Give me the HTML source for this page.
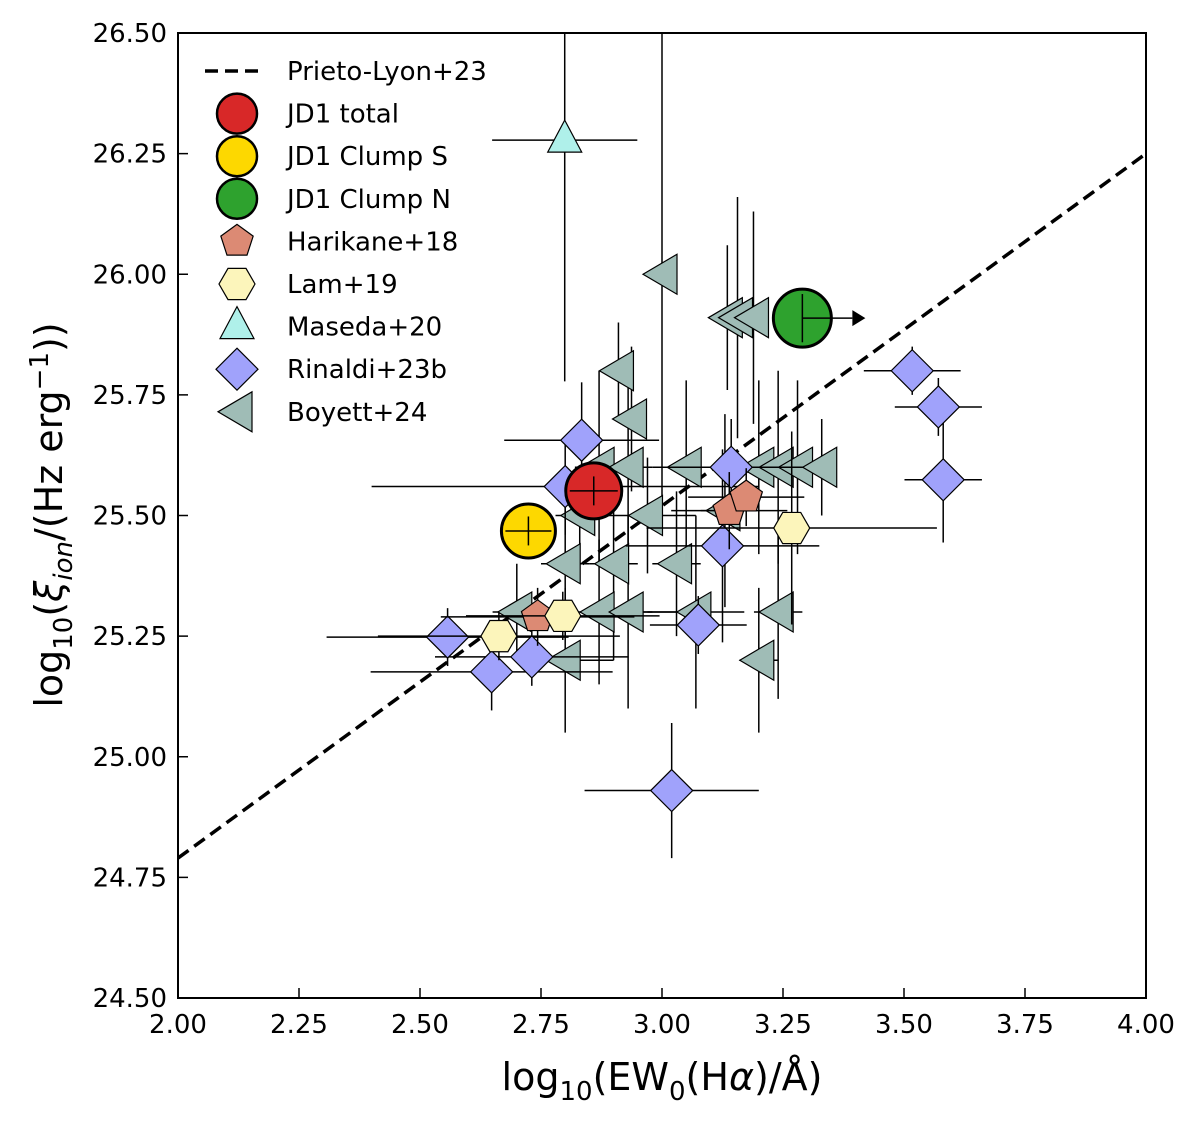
<!DOCTYPE html>
<html><head><meta charset="utf-8"><style>
body{margin:0;background:#fff;}
svg text{font-family:"DejaVu Sans","Liberation Sans",sans-serif;fill:#000;}
</style></head><body>
<svg id="chart" width="1200" height="1123" xmlns="http://www.w3.org/2000/svg"></svg>
<script>
// ---- data ----
const xTicks=[2.00,2.25,2.50,2.75,3.00,3.25,3.50,3.75,4.00];
const yTicks=[24.50,24.75,25.00,25.25,25.50,25.75,26.00,26.25,26.50];
const fitIntercept=24.79, fitSlope=0.73;
// Boyett+24: x, y, x-err, y-err
const boyX=[3.00,3.135,3.156,3.189,2.91,2.937,2.87,2.93,3.05,3.20,3.24,3.28,3.33,2.83,2.97,3.13,2.80,2.90,3.03,2.70,2.87,2.93,3.07,3.24,2.80,3.20];
const boyY=[26.00,25.91,25.91,25.91,25.80,25.70,25.60,25.60,25.60,25.60,25.60,25.60,25.60,25.50,25.50,25.51,25.40,25.40,25.40,25.30,25.30,25.30,25.30,25.30,25.20,25.20];
const boyXe=[0.02,0.02,0.02,0.02,0.02,0.02,0.05,0.05,0.07,0.05,0.05,0.05,0.02,0.05,0.1,0.05,0.05,0.05,0.05,0.05,0.2,0.05,0.1,0.05,0.1,0.04];
const boyYe=[0.5,0.15,0.25,0.22,0.1,0.15,0.2,0.2,0.18,0.18,0.2,0.18,0.1,0.1,0.12,0.2,0.15,0.2,0.15,0.1,0.15,0.2,0.2,0.18,0.15,0.15];
// Rinaldi+23b
const rinX=[2.834,2.80,3.143,3.125,3.075,3.02,2.557,2.648,2.731,3.517,3.571,3.581];
const rinY=[25.656,25.56,25.60,25.437,25.273,24.93,25.248,25.176,25.207,25.80,25.725,25.574];
const rinXe=[0.16,0.4,0.15,0.2,0.1,0.18,0.25,0.25,0.2,0.1,0.09,0.08];
const rinYe=[0.12,0.1,0.1,0.2,0.06,0.14,0.06,0.08,0.06,0.05,0.06,0.13];
// Harikane+18
const harX=[2.743,3.139,3.174];
const harY=[25.29,25.51,25.538];
const harXe=[0.2,0.12,0.12];
const harYe=[0.06,0.08,0.06];
// Lam+19
const lamX=[2.663,2.795,3.268];
const lamY=[25.25,25.292,25.474];
const lamXe=[0.25,0.2,0.3];
const lamYe=[0.05,0.05,0.2];
// Maseda+20
const masX=[2.799]; const masY=[26.278]; const masXe=[0.15]; const masYe=[0.5];
// JD1
const jdNames=["JD1 total","JD1 Clump S","JD1 Clump N"];
const jdX=[2.859,2.724,3.29];
const jdY=[25.551,25.468,25.909];
const jdXe=[0.05,0.05,0.0];
const jdYe=[0.03,0.03,0.05];

// ---- axes ----
const L=178,R=1146,T=33,B=998;
const sx=v=>L+(v-2)/(4-2)*(R-L);
const sy=v=>B-(v-24.5)/(26.5-24.5)*(B-T);
const NS="http://www.w3.org/2000/svg";
const svg=document.getElementById('chart');
function mk(tag,attrs,parent){const e=document.createElementNS(NS,tag);for(const k in attrs)e.setAttribute(k,attrs[k]);(parent||svg).appendChild(e);return e;}
const clip=mk('clipPath',{id:'cp'});mk('rect',{x:L,y:T,width:R-L,height:B-T},clip);
const plot=mk('g',{'clip-path':'url(#cp)'});



// fit line
const fit=mk('line',{x1:sx(2),y1:sy(fitIntercept),x2:sx(4),y2:sy(fitIntercept+fitSlope*2),stroke:'#000','stroke-width':3.5,'stroke-dasharray':'13,7'},plot);



function errs(xs,ys,xe,ye,name){
  for(let i=0;i<xs.length;i++){
    const g=mk('g',{stroke:'#000','stroke-width':1.5},plot);
    
    
    if(xe[i]>0)mk('line',{x1:sx(xs[i]-xe[i]),x2:sx(xs[i]+xe[i]),y1:sy(ys[i]),y2:sy(ys[i])},g);
    if(ye[i]>0)mk('line',{x1:sx(xs[i]),x2:sx(xs[i]),y1:sy(ys[i]-ye[i]),y2:sy(ys[i]+ye[i])},g);
  }
}
function pts(n,r,rot){let p=[];for(let k=0;k<n;k++){const a=(rot+k*360/n)*Math.PI/180;p.push([r*Math.cos(a),r*Math.sin(a)]);}return p;}
function marker(cx,cy,shape,fill,parent){
  let p;
  if(shape==='tri-left')p=[[-19,0],[15,-20],[15,20]];
  else if(shape==='tri-up')p=[[0,-20],[17,12],[-17,12]];
  else if(shape==='diamond')p=[[0,-21],[21,0],[0,21],[-21,0]];
  else if(shape==='pent')p=pts(5,17,-90);
  else if(shape==='hex')p=pts(6,18,0);
  return mk('polygon',{points:p.map(q=>(cx+q[0])+','+(cy+q[1])).join(' '),fill:fill,stroke:'#000','stroke-width':1.2},parent||plot);
}
function series(xs,ys,xe,ye,shape,fill,name){
  errs(xs,ys,xe,ye,name);
  for(let i=0;i<xs.length;i++){
    const m=marker(sx(xs[i]),sy(ys[i]),shape,fill);
    
    
  }
}
series(boyX,boyY,boyXe,boyYe,'tri-left','#9fbcb6','boyett24');
series(rinX,rinY,rinXe,rinYe,'diamond','#a0a2fb','rinaldi23b');
series(harX,harY,harXe,harYe,'pent','#dc8a74','harikane18');
series(lamX,lamY,lamXe,lamYe,'hex','#fcf5bb','lam19');
series(masX,masY,masXe,masYe,'tri-up','#aff0ea','maseda20');

const jdCol=['#d82828','#fdd800','#2ea22e'];
const jdR=[28,27,29];
for(let i=0;i<jdX.length;i++){
  const c=mk('circle',{cx:sx(jdX[i]),cy:sy(jdY[i]),r:jdR[i],fill:jdCol[i],stroke:'#000','stroke-width':3},plot);
  
  
  const g=mk('g',{stroke:'#000','stroke-width':1.5},plot);
  
  
  mk('line',{x1:sx(jdX[i])-(i==2?0:jdR[i]-4),x2:sx(jdX[i])+(i==2?0:jdR[i]-4),y1:sy(jdY[i]),y2:sy(jdY[i])},g);
  mk('line',{x1:sx(jdX[i]),x2:sx(jdX[i]),y1:sy(jdY[i]+jdYe[i]),y2:sy(jdY[i]-jdYe[i])},g);
  if(i==2){
    mk('line',{x1:sx(jdX[i]),x2:sx(jdX[i])+50,y1:sy(jdY[i]),y2:sy(jdY[i])},g);
    const a=mk('polygon',{points:`${sx(jdX[i])+50},${sy(jdY[i])-8} ${sx(jdX[i])+63},${sy(jdY[i])} ${sx(jdX[i])+50},${sy(jdY[i])+8}`,fill:'#000',stroke:'none'},plot);
    
    
  }
}

// frame
const fr=mk('rect',{x:L,y:T,width:R-L,height:B-T,fill:'none',stroke:'#000','stroke-width':2});


// ticks
xTicks.forEach(v=>{
  mk('line',{x1:sx(v),x2:sx(v),y1:B,y2:B-10,stroke:'#000','stroke-width':1.5});
  const t=mk('text',{x:sx(v),y:B+35,'text-anchor':'middle','font-size':26});t.textContent=v.toFixed(2);
  
  
});
yTicks.forEach(v=>{
  mk('line',{x1:L,x2:L+10,y1:sy(v),y2:sy(v),stroke:'#000','stroke-width':1.5});
  const t=mk('text',{x:L-11,y:sy(v)+9,'text-anchor':'end','font-size':26});t.textContent=v.toFixed(2);
  
  
});

// legend
const leg=mk('g',{});


const legNames=["Prieto-Lyon+23","JD1 total","JD1 Clump S","JD1 Clump N","Harikane+18","Lam+19","Maseda+20","Rinaldi+23b","Boyett+24"];
legNames.forEach((n,i)=>{
  const y=71+i*42.6;
  if(i==0)mk('line',{x1:205,x2:262,y1:y,y2:y,stroke:'#000','stroke-width':3.5,'stroke-dasharray':'13,7'},leg);
  else if(i<=3)mk('circle',{cx:237,cy:y,r:20,fill:jdCol[i-1],stroke:'#000','stroke-width':2.5},leg);
  else{
    const shp=['pent','hex','tri-up','diamond','tri-left'][i-4];
    const col=['#dc8a74','#fcf5bb','#aff0ea','#a0a2fb','#9fbcb6'][i-4];
    marker(237,y,shp,col,leg);
  }
  const t=mk('text',{x:287,y:y+9,'font-size':26},leg);t.textContent=n;
  
  
});

// axis titles
const xt=mk('text',{x:662,y:1090,'text-anchor':'middle','font-size':38});
xt.innerHTML='log<tspan font-size="26" dy="10">10</tspan><tspan dy="-10">(EW</tspan><tspan font-size="26" dy="10">0</tspan><tspan dy="-10">(H</tspan><tspan font-style="italic">α</tspan>)/Å)';


const yt=mk('text',{x:0,y:0,'text-anchor':'middle','font-size':38,transform:'translate(62,515) rotate(-90)'});
yt.innerHTML='log<tspan font-size="26" dy="10">10</tspan><tspan dy="-10">(</tspan><tspan font-style="italic">ξ</tspan><tspan font-size="26" dy="10" font-style="italic">ion</tspan><tspan dy="-10">/(Hz erg</tspan><tspan font-size="26" dy="-14">−1</tspan><tspan dy="14">))</tspan>';


</script>
</body></html>
